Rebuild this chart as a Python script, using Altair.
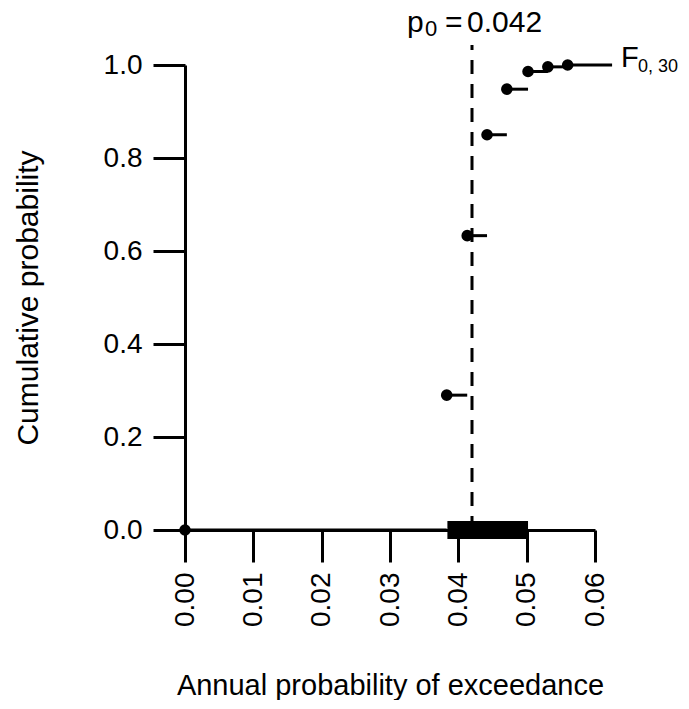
import altair as alt
import pandas as pd

x_vals = [0.0, 0.0383, 0.0413, 0.0442, 0.0471, 0.0502, 0.0531, 0.0560]
cum_vals = [0.0, 0.29, 0.633, 0.85, 0.948, 0.986, 0.996, 1.0]
x_end = 0.0625
p0 = 0.042
interval_lo = 0.0384
interval_hi = 0.0502
x_ticks = [0.0, 0.01, 0.02, 0.03, 0.04, 0.05, 0.06]
y_ticks = [0.0, 0.2, 0.4, 0.6, 0.8, 1.0]

FONT = "Liberation Sans"

df = pd.DataFrame({"x": x_vals, "F": cum_vals, "xnext": x_vals[1:] + [x_end]})
one = pd.DataFrame({"k": [0]})

xscale = alt.Scale(domain=[0, 0.06], nice=False, zero=False)
yscale = alt.Scale(domain=[0, 1], nice=False)

xaxis = alt.Axis(values=x_ticks, format=".2f", labelAngle=270, labelFlush=False,
                 labelPadding=10, titlePadding=45, grid=False, titleFontSize=29,
                 title="Annual probability of exceedance")
yaxis = alt.Axis(values=y_ticks, format=".1f", labelFlush=False, labelPadding=11,
                 titlePadding=60, grid=False, titleFontSize=30,
                 title="Cumulative probability")

segments = alt.Chart(df).mark_rule(color="black", strokeWidth=3).encode(
    x=alt.X("x:Q", scale=xscale, axis=xaxis),
    x2="xnext:Q",
    y=alt.Y("F:Q", scale=yscale, axis=yaxis),
)

points = alt.Chart(df).mark_circle(color="black", opacity=1, size=135).encode(
    x=alt.X("x:Q", scale=xscale),
    y=alt.Y("F:Q", scale=yscale),
)

dashed = alt.Chart(one).mark_rule(color="black", strokeWidth=3, strokeDash=[14, 10]).encode(
    x=alt.X(datum=p0, scale=xscale),
    y=alt.Y(datum=0, scale=yscale),
    y2=alt.Y2(datum=1.043),
)

interval = alt.Chart(one).mark_rule(color="black", strokeWidth=18, strokeCap="butt").encode(
    x=alt.X(datum=interval_lo, scale=xscale),
    x2=alt.X2(datum=interval_hi),
    y=alt.Y(datum=0, scale=yscale),
)


def label(text, xd, yd, size, dx, dy=0):
    return alt.Chart(one).mark_text(
        text=text, font=FONT, fontSize=size, fontWeight="normal", align="left",
        baseline="alphabetic", dx=dx, dy=dy, color="black",
    ).encode(x=alt.X(datum=xd, scale=xscale), y=alt.Y(datum=yd, scale=yscale))


p_main = label("p", p0, 1.072, 30, -65)
p_sub = label("0", p0, 1.072, 22, -47, 4)
p_eq = label("=", p0, 1.072, 30, -27)
p_val = label("0.042", p0, 1.072, 30, -5)

f_main = label("F", x_end, 1.0, 29, 9, 2)
f_sub = label("0, 30", x_end, 1.0, 18, 26, 7)

chart = alt.layer(
    dashed, segments, points, interval, p_main, p_sub, p_eq, p_val, f_main, f_sub
).properties(
    width=410, height=465,
    autosize=alt.AutoSizeParams(type="none"),
    padding={"left": 177, "top": 57, "right": 86, "bottom": 170},
).configure_view(stroke=None).configure_axis(
    domainColor="black", domainWidth=3, tickColor="black", tickWidth=3, tickSize=32,
    labelColor="black", labelFont=FONT, labelFontSize=28,
    titleColor="black", titleFont=FONT, titleFontWeight="normal",
    labelOverlap=False,
)

chart.save("out.html", embed_options={"renderer": "svg", "actions": False})
